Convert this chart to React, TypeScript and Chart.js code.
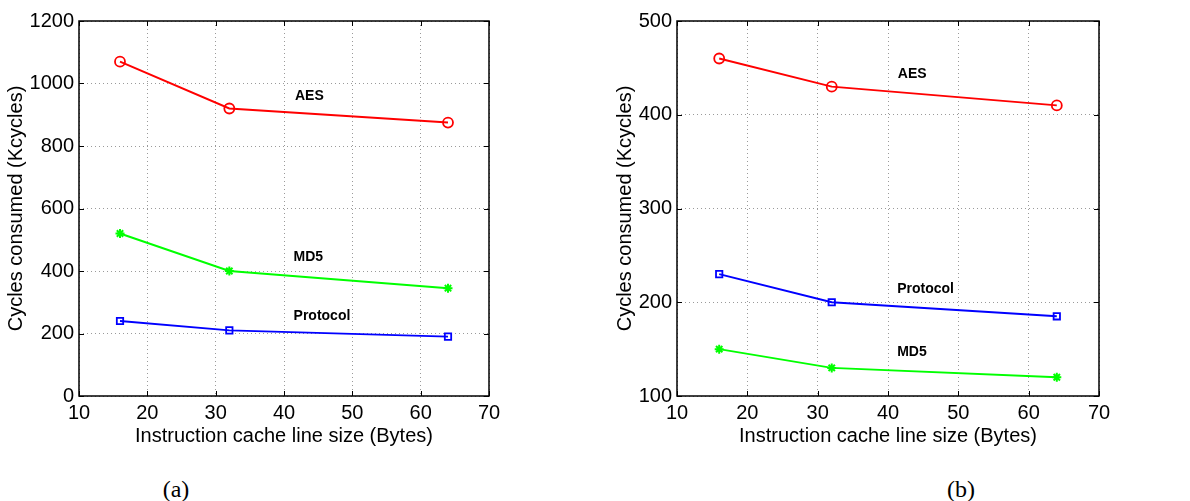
import React, { useEffect, useRef } from "react";
import { Chart, registerables } from "chart.js";

Chart.register(...registerables);

// ---- data ----
const cacheLineSizes = [16, 32, 64];
const xTickRange = [10, 70];

const aesA = [1070, 920, 875];
const md5A = [520, 400, 345];
const protocolA = [240, 210, 190];
const yRangeA = [0, 1200];

const aesB = [460, 430, 410];
const protocolB = [230, 200, 185];
const md5B = [150, 130, 120];
const yRangeB = [100, 500];

const labelNames = ["AES", "MD5", "Protocol"];
const labelXA = [41.6, 41.4, 41.4];
const labelYA = [960, 444, 257];
const labelXB = [41.4, 41.3, 41.3];
const labelYB = [443, 147, 214];

const FONT = "'Liberation Sans', Arial, Helvetica, sans-serif";

type PanelCfg = {
  aes: number[];
  md5: number[];
  protocol: number[];
  yRange: number[];
  yStep: number;
  labelX: number[];
  labelY: number[];
  width: number;
  height: number;
  yAxisWidth: number;
  padRight: number;
  yTitlePad: number;
};

const framePlugin = {
  id: "frameAndLabels",
  afterDraw(chart: any, _args: any, opts: any) {
    const { ctx, chartArea } = chart;
    const { left, right, top, bottom } = chartArea;
    const xs = chart.scales.x;
    const ys = chart.scales.y;
    ctx.save();
    ctx.strokeStyle = "#000";
    ctx.lineWidth = 1.5;
    ctx.strokeRect(left, top, right - left, bottom - top);
    const tl = 5;
    ctx.lineWidth = 1;
    ctx.beginPath();
    xs.ticks.forEach((t: any) => {
      const px = Math.round(xs.getPixelForValue(t.value)) + 0.5;
      ctx.moveTo(px, bottom);
      ctx.lineTo(px, bottom - tl);
      ctx.moveTo(px, top);
      ctx.lineTo(px, top + tl);
    });
    ys.ticks.forEach((t: any) => {
      const py = Math.round(ys.getPixelForValue(t.value)) + 0.5;
      ctx.moveTo(left, py);
      ctx.lineTo(left + tl, py);
      ctx.moveTo(right, py);
      ctx.lineTo(right - tl, py);
    });
    ctx.stroke();
    // annotations
    ctx.fillStyle = "#000";
    ctx.font = `bold 14px ${FONT}`;
    ctx.textAlign = "left";
    ctx.textBaseline = "middle";
    const names: string[] = opts.names || [];
    names.forEach((n, i) => {
      ctx.fillText(
        n,
        xs.getPixelForValue(opts.lx[i]),
        ys.getPixelForValue(opts.ly[i])
      );
    });
    ctx.restore();
  },
};

function Panel({ cfg }: { cfg: PanelCfg }) {
  const ref = useRef<HTMLCanvasElement>(null);
  useEffect(() => {
    if (!ref.current) return;
    const mk = (vals: number[]) =>
      cacheLineSizes.map((x, i) => ({ x, y: vals[i] }));
    const chart = new Chart(ref.current, {
      type: "line",
      data: {
        datasets: [
          {
            label: "AES",
            data: mk(cfg.aes),
            borderColor: "#ff0000",
            backgroundColor: "rgba(0,0,0,0)",
            borderWidth: 2,
            pointStyle: "circle",
            pointRadius: 5,
            pointBorderWidth: 1.8,
            pointBackgroundColor: "rgba(0,0,0,0)",
            pointBorderColor: "#ff0000",
          },
          {
            label: "MD5",
            data: mk(cfg.md5),
            borderColor: "#00ff00",
            backgroundColor: "rgba(0,0,0,0)",
            borderWidth: 2,
            pointStyle: "star",
            pointRadius: 4.5,
            pointBorderWidth: 2,
            pointBorderColor: "#00ff00",
          },
          {
            label: "Protocol",
            data: mk(cfg.protocol),
            borderColor: "#0000ff",
            backgroundColor: "rgba(0,0,0,0)",
            borderWidth: 2,
            pointStyle: "rect",
            pointRadius: 4.5,
            pointBorderWidth: 1.8,
            pointBackgroundColor: "rgba(0,0,0,0)",
            pointBorderColor: "#0000ff",
          },
        ],
      },
      options: {
        animation: false,
        responsive: false,
        devicePixelRatio: 1,
        layout: {
          padding: { left: 0, right: cfg.padRight, top: 21, bottom: 12 },
        },
        plugins: {
          legend: { display: false },
          tooltip: { enabled: false },
          frameAndLabels: {
            names: labelNames,
            lx: cfg.labelX,
            ly: cfg.labelY,
          },
        } as any,
        scales: {
          x: {
            type: "linear",
            min: xTickRange[0],
            max: xTickRange[1],
            ticks: {
              stepSize: 10,
              color: "#000",
              font: { family: FONT, size: 20 },
              padding: 5,
              maxRotation: 0,
              callback: (v: any) => String(v),
            },
            grid: {
              color: "#9a9a9a",
              lineWidth: 1,
              drawTicks: false,
            },
            border: { display: false, dash: [1, 3] },
            title: {
              display: true,
              text: "Instruction cache line size (Bytes)",
              color: "#000",
              font: { family: FONT, size: 20 },
              padding: { top: 0, bottom: 0 },
            },
            afterFit: (s: any) => {
              s.height = 52;
            },
          },
          y: {
            type: "linear",
            min: cfg.yRange[0],
            max: cfg.yRange[1],
            ticks: {
              stepSize: cfg.yStep,
              color: "#000",
              font: { family: FONT, size: 20 },
              padding: 5,
              callback: (v: any) => String(v),
            },
            grid: {
              color: "#9a9a9a",
              lineWidth: 1,
              drawTicks: false,
            },
            border: { display: false, dash: [1, 3] },
            title: {
              display: true,
              text: "Cycles consumed (Kcycles)",
              color: "#000",
              font: { family: FONT, size: 20 },
              padding: { top: cfg.yTitlePad, bottom: 0 },
            },
            afterFit: (s: any) => {
              s.width = cfg.yAxisWidth;
            },
          },
        },
      } as any,
      plugins: [framePlugin],
    });
    return () => chart.destroy();
  }, [cfg]);
  return <canvas ref={ref} width={cfg.width} height={cfg.height} />;
}

const cfgA: PanelCfg = {
  aes: aesA,
  md5: md5A,
  protocol: protocolA,
  yRange: yRangeA,
  yStep: 200,
  labelX: labelXA,
  labelY: labelYA,
  width: 600,
  height: 460,
  yAxisWidth: 79,
  padRight: 111,
  yTitlePad: 4,
};

const cfgB: PanelCfg = {
  aes: aesB,
  md5: md5B,
  protocol: protocolB,
  yRange: yRangeB,
  yStep: 100,
  labelX: labelXB,
  labelY: labelYB,
  width: 590,
  height: 460,
  yAxisWidth: 77,
  padRight: 91,
  yTitlePad: 13,
};

const captionStyle: React.CSSProperties = {
  position: "absolute",
  fontFamily: "'Liberation Serif', 'DejaVu Serif', serif",
  fontSize: 24,
  color: "#000",
  transform: "translate(-50%, -50%)",
  whiteSpace: "nowrap",
};

export default function App() {
  return (
    <div
      style={{
        position: "absolute",
        left: 0,
        top: 0,
        width: 1190,
        height: 501,
        background: "#fff",
        overflow: "hidden",
      }}
    >
      <div style={{ position: "absolute", left: 0, top: 0 }}>
        <Panel cfg={cfgA} />
      </div>
      <div style={{ position: "absolute", left: 600, top: 0 }}>
        <Panel cfg={cfgB} />
      </div>
      <div style={{ ...captionStyle, left: 176, top: 489 }}>(a)</div>
      <div style={{ ...captionStyle, left: 961, top: 489 }}>(b)</div>
    </div>
  );
}
